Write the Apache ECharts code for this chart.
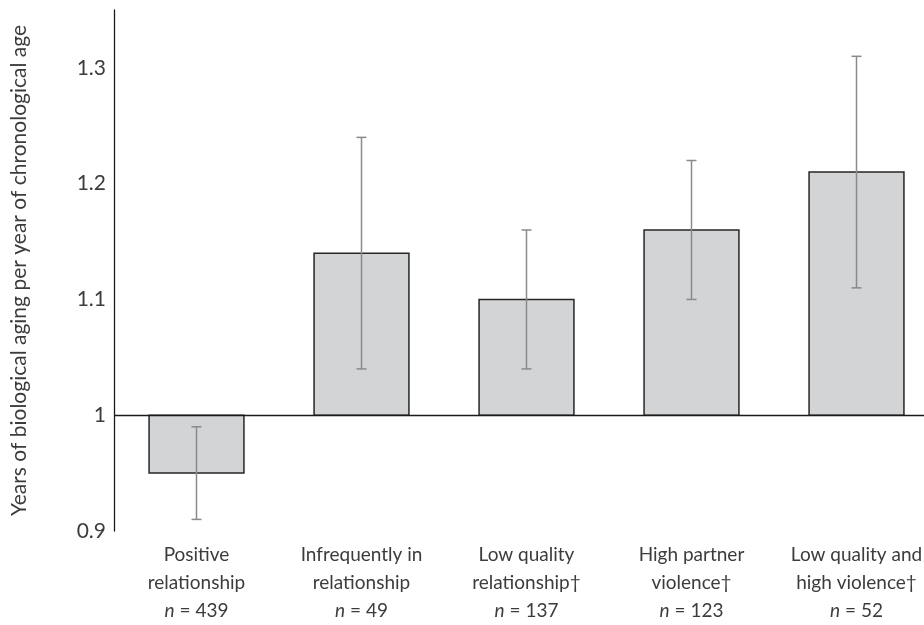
<!DOCTYPE html>
<html><head><meta charset="utf-8">
<script src="https://cdn.jsdelivr.net/npm/echarts@6/dist/echarts.min.js"></script>
<style>html,body{margin:0;padding:0;background:#fff}#c{width:924px;height:625px}</style>
</head><body><div id="c"></div>
<script>
const categories = ['Positive\nrelationship', 'Infrequently in\nrelationship', 'Low quality\nrelationship\u2020', 'High partner\nviolence\u2020', 'Low quality and\nhigh violence\u2020'];
const sampleSizes = [439, 49, 137, 123, 52];
const means = [0.95, 1.14, 1.10, 1.16, 1.21];
const errLow = [0.91, 1.04, 1.04, 1.10, 1.11];
const errHigh = [0.99, 1.24, 1.16, 1.22, 1.31];
const yTicks = [0.9, 1, 1.1, 1.2, 1.3];
const baseline = 1;

const FONT = 'Lato';
const TXT = '#3c3c3c';
const chart = echarts.init(document.getElementById('c'));
const barData = means.map((v, i) => [i, v]);
const errData = means.map((v, i) => [i, errLow[i], errHigh[i]]);

chart.setOption({
  animation: false,
  grid: { left: 114, width: 825, top: 10, bottom: 94, outerBoundsMode: 'none', containLabel: false },
  xAxis: {
    type: 'category',
    data: categories,
    axisLine: { show: false },
    axisTick: { show: false },
    axisLabel: {
      margin: 10,
      interval: 0,
      color: TXT,
      fontFamily: FONT,
      fontSize: 19,
      lineHeight: 28,
      formatter: (val, idx) => val + '\n{i|n} = ' + sampleSizes[idx],
      rich: { i: { fontStyle: 'italic', fontFamily: FONT, fontSize: 19, color: TXT, lineHeight: 28 } }
    }
  },
  yAxis: {
    type: 'value',
    min: 0.9, max: 1.35, interval: 0.1,
    name: 'Years of biological aging per year of chronological age',
    nameLocation: 'middle', nameGap: 84, nameRotate: 90,
    nameTextStyle: { fontFamily: FONT, fontSize: 21, color: TXT },
    axisLine: { show: true, lineStyle: { color: '#1a1a1a', width: 1.3 } },
    axisTick: { show: false },
    splitLine: { show: false },
    axisLabel: {
      margin: 8, color: TXT, fontFamily: FONT, fontSize: 21,
      formatter: v => { const t = yTicks.find(x => Math.abs(x - v) < 1e-6); return t === undefined ? '' : String(t); }
    }
  },
  series: [
    {
      type: 'custom',
      data: barData,
      renderItem: (params, api) => {
        const i = api.value(0), v = api.value(1);
        const p1 = api.coord([i, baseline]);
        const p2 = api.coord([i, v]);
        const w = api.size([1, 0])[0] * 0.575;
        return {
          type: 'rect',
          shape: { x: p1[0] - w / 2, y: Math.min(p1[1], p2[1]), width: w, height: Math.abs(p2[1] - p1[1]) },
          style: { fill: '#d3d4d6', stroke: '#262626', lineWidth: 1.5 }
        };
      },
      markLine: {
        silent: true, symbol: 'none', label: { show: false },
        lineStyle: { color: '#1a1a1a', type: 'solid', width: 1.3 },
        data: [{ yAxis: baseline }]
      },
      z: 2
    },
    {
      type: 'custom',
      data: errData,
      renderItem: (params, api) => {
        const i = api.value(0);
        const lo = api.coord([i, api.value(1)]);
        const hi = api.coord([i, api.value(2)]);
        const cap = 5;
        const st = { stroke: '#8a8a8a', lineWidth: 1.5 };
        return {
          type: 'group',
          children: [
            { type: 'line', shape: { x1: lo[0], y1: lo[1], x2: hi[0], y2: hi[1] }, style: st },
            { type: 'line', shape: { x1: lo[0] - cap, y1: lo[1], x2: lo[0] + cap, y2: lo[1] }, style: st },
            { type: 'line', shape: { x1: hi[0] - cap, y1: hi[1], x2: hi[0] + cap, y2: hi[1] }, style: st }
          ]
        };
      },
      z: 3
    }
  ]
});
</script></body></html>
